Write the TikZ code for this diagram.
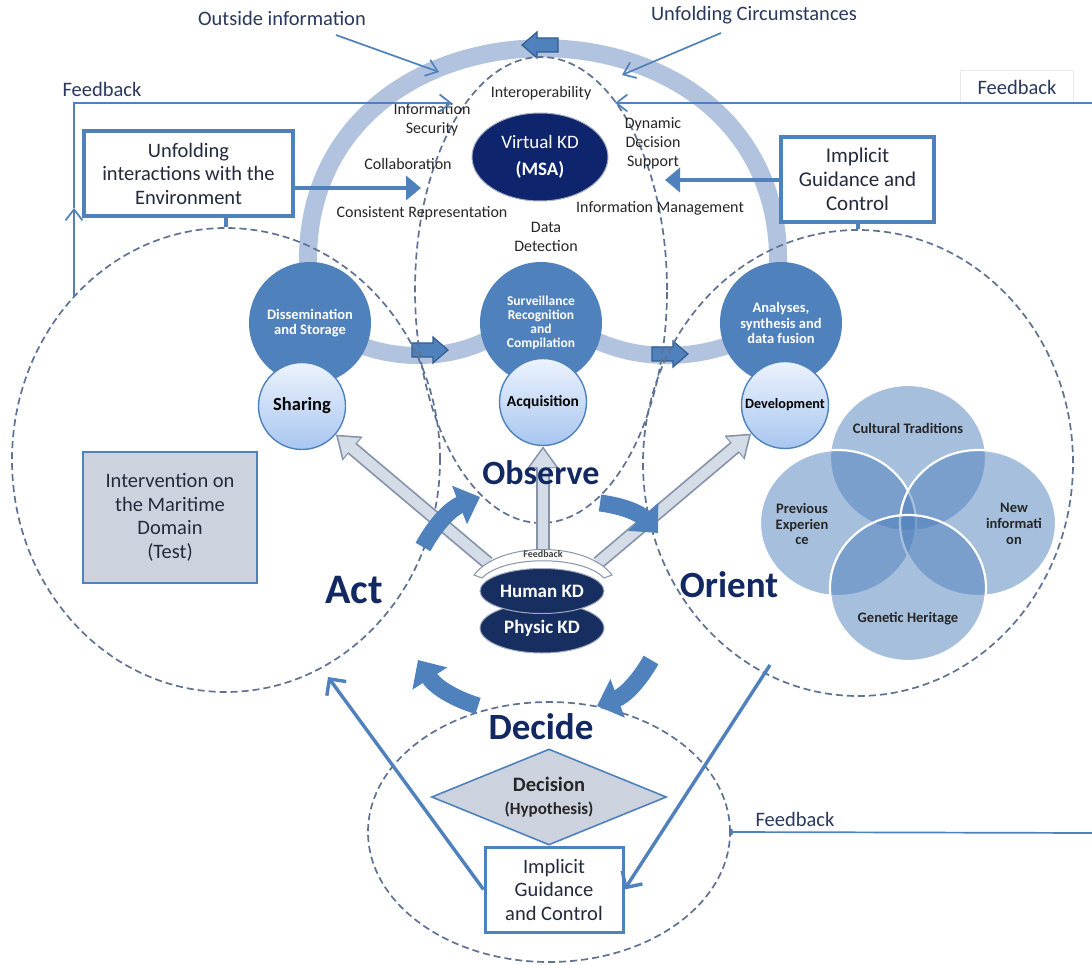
\documentclass[tikz,border=0pt]{standalone}
\usepackage{fontspec}
\setmainfont{Carlito}
\usetikzlibrary{shapes.geometric,arrows.meta,positioning,calc}

\definecolor{mainblue}{RGB}{79,129,189}
\definecolor{bandblue}{RGB}{178,195,224}
\definecolor{darkedge}{RGB}{52,92,142}
\definecolor{navytext}{RGB}{18,40,98}
\definecolor{labeltext}{RGB}{42,56,94}
\definecolor{textdark}{RGB}{36,42,62}
\definecolor{dashgray}{RGB}{96,114,148}
\definecolor{kdnavy}{RGB}{22,46,96}
\definecolor{vkdnavy}{RGB}{14,36,108}
\definecolor{testgray}{RGB}{205,211,222}
\definecolor{arrowfill}{RGB}{212,220,232}
\definecolor{arrowedge}{RGB}{135,147,168}
\definecolor{lighttop}{RGB}{236,243,253}
\definecolor{lightbot}{RGB}{168,198,240}

\newcommand{\fsz}[2]{\fontsize{#1}{#2}\selectfont}

\tikzset{
  stage/.style={ellipse, draw=dashgray, dash pattern=on 7pt off 4pt, line width=1.7pt, inner sep=0pt},
  band/.style={draw=bandblue, line width=17pt},
  process/.style={circle, fill=mainblue, text=white, align=center, minimum size=122pt, inner sep=0pt, font=\bfseries\fsz{14.5}{15.5}},
  action/.style={circle, draw=mainblue, line width=1.4pt, top color=lighttop, bottom color=lightbot, minimum size=87pt, inner sep=0pt, text=black, font=\bfseries\fsz{15.5}{17}},
  venn/.style={ellipse, fill=mainblue, fill opacity=0.5, draw=white, line width=2.2pt, minimum width=156pt, minimum height=146pt},
  venntext/.style={text=black!85, align=center, font=\bfseries\fsz{14.5}{15.7}},
  phase/.style={text=navytext, font=\bfseries\fsz{37}{37}},
  small/.style={text=black!85, align=center, font=\fsz{16}{19}},
  toplabel/.style={text=labeltext, font=\fsz{20.5}{24}},
  infobox/.style={draw=mainblue, line width=3.6pt, fill=white, align=center, text=textdark, inner sep=0pt, font=\fsz{20.5}{23.5}},
  kd/.style={ellipse, fill=kdnavy, draw=white!60!kdnavy, line width=1pt, text=white, align=center, minimum width=124pt, inner sep=0pt, font=\bfseries\fsz{19}{21}},
  stem/.style={draw=mainblue, line width=3.6pt},
  guidearrow/.style={draw=mainblue, line width=3.8pt, -{Triangle[length=15pt,width=24pt]}},
  thinguide/.style={draw=mainblue, line width=3.4pt, -{Straight Barb[length=12pt,width=24pt]}},
  infoarrow/.style={draw=mainblue, line width=1.7pt, -{Straight Barb[length=11pt,width=17pt]}},
  cyclearrow/.style={draw=mainblue, line width=17pt, -{Triangle[length=22pt,width=40pt]}},
  feedout/.style={draw=arrowedge, line width=14pt, -{Triangle[length=22pt,width=30pt]}},
  feedin/.style={draw=arrowfill, line width=10.5pt, shorten >=2.8pt, -{Triangle[length=18pt,width=24.5pt]}},
  bandarrow/.pic={\draw[fill=mainblue, draw=darkedge, line width=1.2pt] (-18,-7) -- (3,-7) -- (3,-13) -- (18,0) -- (3,13) -- (3,7) -- (-18,7) -- cycle;}
}

\begin{document}
\begin{tikzpicture}[x=1pt,y=-1pt]
  \useasboundingbox (0,0) rectangle (1092,965);
  \fill[white] (0,0) rectangle (1092,965);

  % light bands of the cycle
  \draw[band, line width=18pt] (308,268) .. controls (300,-25) and (786,-25) .. (778,268);
  \draw[band] (355,343) .. controls (395,360) and (445,360) .. (485,341);
  \draw[band] (597,341) .. controls (640,360) and (690,360) .. (735,343);
  \pic at (430,350) {bandarrow};
  \pic at (670,354) {bandarrow};
  \pic[rotate=180] at (540,45) {bandarrow};

  % the four phases
  \node[stage, minimum width=252pt, minimum height=466pt] (observe) at (541,290) {};
  \node[stage, minimum width=428pt, minimum height=464pt] (act) at (226,460) {};
  \node[stage, minimum width=430pt, minimum height=466pt] (orient) at (858,463) {};
  \node[stage, minimum width=362pt, minimum height=260pt] (decide) at (549,832) {};

  % processes
  \node[process] (dissem) at (310,323) {Dissemination\\and Storage};
  \node[process, font=\bfseries\fsz{13.5}{14.2}] (survey) at (541,323) {Surveillance\\Recognition\\and\\Compilation};
  \node[process] (analyses) at (781,323) {Analyses,\\synthesis and\\data fusion};
  \node[action, font=\bfseries\fsz{18.5}{20}] (sharing) at (302,406) {Sharing};
  \node[action] (acquis) at (543,402) {Acquisition};
  \node[action, font=\bfseries\fsz{14.2}{16}] (develop) at (785,405) {Development};

  % orientation factors
  \node[venn] (cultural) at (908,458) {};
  \node[venn] (previous) at (838,523) {};
  \node[venn] (newinfo) at (978,523) {};
  \node[venn] (genetic) at (908,588) {};
  \node[venntext] (culturaltext) at (908,428) {Cultural Traditions};
  \node[venntext] (previoustext) at (802,524) {Previous\\Experien\\ce};
  \node[venntext] (newinfotext) at (1014,524) {New\\informati\\on};
  \node[venntext] (genetictext) at (908,619) {Genetic Heritage};

  % feedback from the knowledge domains
  \coordinate (capleft) at (488,563);
  \coordinate (capmid) at (543,552);
  \coordinate (capright) at (598,563);
  \foreach \tgt/\src in {sharing/capleft, acquis/capmid, develop/capright} {
    \draw[feedout] (\src) -- (\tgt);
    \draw[feedin] (\src) -- (\tgt);
  }
  \draw[fill=white, draw=arrowedge, line width=1pt] (474,575) .. controls (500,541) and (586,541) .. (612,575)
    -- (604,578) .. controls (582,555) and (504,555) .. (482,578) -- cycle;
  \node[font=\bfseries\fsz{10}{10}, text=black!75] (capfeedback) at (543,554) {Feedback};
  \node[kd, minimum height=50pt] (physic) at (542,628) {Physic KD};
  \node[kd, minimum height=45pt] (human) at (542,591) {Human KD};
  \node[kd, fill=vkdnavy, minimum width=136pt, minimum height=88pt, font=\fsz{19}{27}] (virtual) at (540,157) {Virtual KD\\\textbf{(MSA)}};

  % cycle
  \coordinate (actout) at (423,547);
  \coordinate (obsin) at (480,497);
  \coordinate (obsout) at (600,503);
  \coordinate (orin) at (658,533);
  \coordinate (orout) at (651,660);
  \coordinate (decin) at (597,706);
  \coordinate (decout) at (478,706);
  \coordinate (actin) at (418,660);
  \draw[cyclearrow] (actout) to[bend left=20] (obsin);
  \draw[cyclearrow] (obsout) to[bend left=20] (orin);
  \draw[cyclearrow] (orout) to[bend left=20] (decin);
  \draw[cyclearrow] (decout) to[bend left=20] (actin);

  \node[phase, font=\bfseries\fsz{34}{34}] (observelabel) at (541,473) {Observe};
  \node[phase, font=\bfseries\fsz{42}{42}] (actlabel) at (354,590) {Act};
  \node[phase] (orientlabel) at (729,585) {Orient};
  \node[phase] (decidelabel) at (541,727) {Decide};

  % observe attributes
  \node[small] (interop) at (541,93) {Interoperability};
  \node[small] (infosec) at (432,120) {Information\\Security};
  \node[small] (collab) at (408,164) {Collaboration};
  \node[small] (consistent) at (422,213) {Consistent Representation};
  \node[small] (datadet) at (546,237) {Data\\Detection};
  \node[small] (dynamic) at (653,143) {Dynamic\\Decision\\Support};
  \node[small] (infomgmt) at (660,208) {Information Management};

  % inputs
  \node[toplabel] (outside) at (282,18) {Outside information};
  \node[toplabel] (circum) at (754,15) {Unfolding Circumstances};
  \coordinate (outsidefrom) at (336,35);
  \coordinate (outsideto) at (439,72);
  \coordinate (circumfrom) at (721,33);
  \coordinate (circumto) at (622,75);
  \draw[infoarrow] (outsidefrom) -- (outsideto);
  \draw[infoarrow] (circumfrom) -- (circumto);

  % feedback loops
  \node[toplabel] (fbleft) at (102,89) {Feedback};
  \coordinate (fbstart) at (74,297);
  \coordinate (fbmid) at (74,208);
  \coordinate (fbcorner) at (74,103);
  \coordinate (fbend) at (452,103);
  \draw[infoarrow] (fbstart) -- (fbmid);
  \draw[infoarrow] (fbmid) -- (fbcorner) -- (fbend);
  \node[toplabel, draw=black!8, fill=white, minimum width=113pt, minimum height=33pt] (fbright) at (1017,87) {Feedback};
  \coordinate (fbrightfrom) at (1092,103);
  \coordinate (fbrightto) at (615,103);
  \draw[infoarrow] (fbrightfrom) -- (fbrightto);
  \node[toplabel] (fbbottom) at (795,819) {Feedback};
  \coordinate (fbout) at (1092,833);
  \draw[draw=mainblue, line width=1.7pt, arrows={Bar[width=6pt]-}] (decide.east) -- (fbout);

  % boxes
  \node[infobox, minimum width=209pt, minimum height=85pt] (envbox) at (188.5,173.5) {Unfolding\\interactions with the\\Environment};
  \node[infobox, minimum width=153pt, minimum height=85pt, font=\fsz{21}{24}] (guidetop) at (857.5,179.5) {Implicit\\Guidance and\\Control};
  \node[infobox, line width=3pt, minimum width=138pt, minimum height=85pt] (guidebot) at (554,889.5) {Implicit\\Guidance\\and Control};
  \node[draw=mainblue, line width=1.6pt, fill=testgray, align=center, text=textdark, minimum width=174pt, minimum height=131pt, font=\fsz{20.5}{23.5}] (testbox) at (170,517.5) {Intervention on\\the Maritime\\Domain\\(Test)};
  \node[diamond, aspect=2.45, draw=mainblue, line width=1.6pt, fill=testgray, minimum width=235pt, minimum height=96pt, inner sep=0pt, align=center, text=black!85, font=\fsz{20.5}{23}] (decision) at (549,797) {\textbf{Decision}\\{\bfseries\fsz{17}{19}(Hypothesis)}};

  \draw[stem] (envbox.south -| act.north) -- (act.north);
  \draw[stem] (guidetop.south -| orient.north) -- (orient.north);
  \coordinate (envtip) at (421,188);
  \draw[guidearrow] (envbox.east |- envtip) -- (envtip);
  \coordinate (guidetip) at (665,180);
  \draw[guidearrow] (guidetop.west |- guidetip) -- (guidetip);
  \coordinate (acttip) at (328,677);
  \coordinate (orientfoot) at (770,665);
  \draw[thinguide] (guidebot.west) -- (acttip);
  \draw[thinguide] (orientfoot) -- (guidebot.east);
\end{tikzpicture}
\end{document}
